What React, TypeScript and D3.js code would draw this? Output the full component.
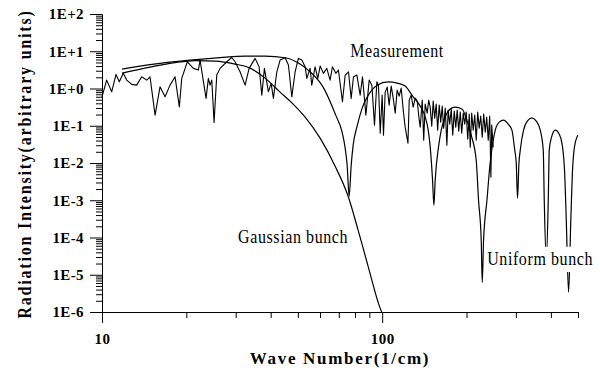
import { useEffect, useRef } from 'react';
import * as d3 from 'd3';

// Measured spectrum (wave number in 1/cm, intensity in arbitrary units)
const measuredK = [
  10.0, 10.39, 10.83, 11.22, 11.53, 11.91, 12.25, 12.77, 13.3, 13.86, 14.44, 14.84, 15.47, 16.11, 16.79, 17.49, 18.23, 18.88, 19.26, 20.17,
  21.19, 22.08, 22.39, 23.52, 23.97, 24.3, 24.65, 25.12, 25.68, 26.39, 27.89, 29.05, 29.85, 31.1, 32.42,
  33.5, 35.19, 36.37, 37.19, 37.99, 39.26, 40.15, 40.91, 42.07, 43.22, 45.04, 46.28, 47.59, 48.9, 50.24, 51.66, 53.09, 53.84, 55.3, 56.07,
  57.62, 58.92, 60.05, 61.7, 63.44, 65.19, 66.44, 68.32, 69.8, 72.15, 73.78, 75.81, 77.52, 79.0, 81.23, 83.47, 85.06, 87.48, 89.88, 91.89,
  93.88, 95.74, 97.0,
  98.4, 100.0, 101.1, 102.5, 104.2, 105.9, 107.7, 109.5, 111.3, 113.1, 115.0, 116.9, 118.9, 120.8, 123.6, 124.9, 126.9, 129.0, 131.2, 133.4,
  135.6, 136.7, 139.0, 140.7, 142.4, 144.8, 146.6, 148.4, 150.3, 152.1, 154.0, 155.9, 157.8, 159.8, 161.8, 163.8, 165.8, 167.9, 170.2, 172.0,
  174.2, 176.4, 178.6, 180.8, 183.1, 185.3, 187.6, 190.0, 192.3, 194.7, 197.1, 199.5, 202.0, 204.5, 206.2, 208.7, 211.3, 214.0, 216.6, 219.3,
  222.0, 224.8, 227.6, 230.4, 233.3, 236.1, 239.1, 242.0, 244.4, 246.0, 249.1
];
const measuredI = [
  0.598, 1.68, 0.815, 2.39, 1.51, 2.55, 1.68, 1.29, 1.23, 2.06, 1.68, 2.06, 0.193, 1.11, 0.598, 1.23, 2.06, 0.322, 1.87, 5.22,
  3.47, 3.13, 5.8, 0.542, 1.87, 1.23, 1.68, 0.123, 2.29, 3.47, 5.22, 6.8, 5.22, 2.81, 1.23,
  3.47, 6.44, 3.83, 0.665, 3.47, 0.815, 1.37, 0.542, 2.81, 5.8, 6.69, 4.26, 0.598, 2.81, 6.44, 5.8, 3.83, 1.87, 3.47, 1.23,
  3.83, 1.87, 4.0, 2.55, 3.47, 1.68, 3.83, 2.55, 3.13, 0.439, 2.29, 2.81, 0.542, 2.06, 2.29, 0.665, 2.06, 0.193, 1.68, 1.23,
  0.104, 1.51, 1.23,
  0.0632, 0.665, 0.0559, 0.8, 1.09, 0.358, 1.16, 0.552, 0.218, 0.906, 0.625, 1.03, 0.263, 0.0917, 0.034, 0.488, 0.665, 0.316, 0.552, 0.458,
  0.141, 0.0917, 0.488, 0.041, 0.381, 0.218, 0.488, 0.316, 0.0975, 0.458, 0.16, 0.381, 0.0762, 0.358, 0.125, 0.336, 0.0861, 0.297, 0.0301, 0.263,
  0.11, 0.279, 0.0559, 0.247, 0.0917, 0.263, 0.0716, 0.232, 0.0632, 0.218, 0.11, 0.232, 0.0436, 0.205, 0.0266, 0.218, 0.0762, 0.193, 0.041, 0.232,
  0.0861, 0.181, 0.0494, 0.205, 0.0673, 0.17, 0.041, 0.181, 0.00415, 0.104, 0.0266
];

// Calculated form factor, uniform bunch
const uniformK = [
  11.79, 14.84, 20.62, 26.39, 32.42, 38.2, 45.04, 50.92, 55.29, 61.55, 68.5, 71.97, 73.78, 74.99, 76.24, 77.52, 78.79, 81.39, 84.83, 88.41,
  95.97, 105.1, 113.1, 120.8, 129.0, 136.7, 142.4, 146.0, 148.4, 151.3, 153.0, 154.6, 158.9, 162.5, 167.9, 172.0, 182.3, 193.1, 199.5, 207.9,
  216.6, 220.8, 225.7, 227.6, 230.1, 236.6, 242.8, 248.1, 253.3, 261.8, 271.2, 281.8, 290.5, 297.3, 301.0, 304.2, 307.7, 311.1, 319.6, 329.5,
  342.4, 354.8, 366.7, 375.8, 378.9, 385.2, 391.6, 394.8, 401.3, 414.8, 428.6, 439.4, 448.5, 454.1, 462.8, 471.3, 477.1, 485.0, 499.2
];
const uniformI = [
  3.32, 4.39, 5.8, 6.77, 7.43, 7.43, 6.69, 4.53, 2.81, 1.09, 0.181, 0.0673, 0.025, 0.00873, 0.00128, 0.00873, 0.0301, 0.0975, 0.297, 0.587,
  1.23, 1.51, 1.4, 1.16, 0.598, 0.336, 0.173, 0.0762, 0.0271, 0.00345, 0.000734, 0.00345, 0.0271, 0.0762, 0.17, 0.247, 0.316, 0.279, 0.16, 0.0559,
  0.0119, 0.001, 0.000084, 0.00000625, 0.000084, 0.001, 0.00988, 0.034, 0.0762, 0.125, 0.141, 0.11, 0.0762, 0.0221, 0.00988, 0.00113, 0.00988, 0.0221, 0.0762, 0.133,
  0.163, 0.133, 0.0762, 0.0221, 0.001, 0.0000244, 0.001, 0.0221, 0.0464, 0.0762, 0.0595, 0.0301, 0.0047, 0.00029, 0.00000337, 0.00029, 0.0047, 0.025, 0.0559
];

// Calculated form factor, Gaussian bunch
const gaussK = [11.79, 14.84, 18.23, 21.49, 25.32, 29.85, 33.78, 38.2, 43.22, 47.71, 53.09, 60.05, 67.94, 75.6, 82.1, 89.1, 98.4, 99.6];
const gaussI = [2.59, 3.76, 4.97, 5.62, 5.45, 4.53, 3.53, 1.9, 0.8, 0.405, 0.17, 0.0464, 0.0082, 0.00128, 0.000156, 0.0000168, 0.00000125, 0.000001];

const xMajorTicks = [10, 100];
const xMinorTicks = [20, 30, 40, 50, 60, 70, 80, 90, 200, 300, 400, 500];
const yMajorTicks = [1e2, 1e1, 1e0, 1e-1, 1e-2, 1e-3, 1e-4, 1e-5, 1e-6];

const annotations = [
  { text: 'Measurement', k: 76.9, v: 6.98, masked: false },
  { text: 'Gaussian bunch', k: 30.6, v: 6.98e-5, masked: false },
  { text: 'Uniform bunch', k: 237, v: 1.79e-5, masked: true }
];

const FONT = "'Liberation Serif', 'Times New Roman', serif";

export default function App() {
  const svgRef = useRef<SVGSVGElement>(null);

  useEffect(() => {
    if (!svgRef.current) return;
    const svg = d3.select(svgRef.current);
    svg.selectAll('*').remove();

    const x = d3.scaleLog().domain([10, 500]).range([102, 578]);
    const y = d3.scaleLog().domain([1e-6, 1e2]).range([312, 14]);

    const yMinorTicks: number[] = [];
    yMajorTicks.slice(1).forEach(d => {
      for (let m = 2; m <= 9; m++) yMinorTicks.push(d * m);
    });

    const expLabel = (d: any) => {
      const e = Math.round(Math.log10(d));
      return `1E${e >= 0 ? '+' : '-'}${Math.abs(e)}`;
    };

    const styleAxis = (g: any) => {
      g.attr('font-family', FONT).attr('font-size', 15).attr('font-weight', 'bold');
      g.selectAll('text').attr('fill', '#000').attr('letter-spacing', 0.4);
      g.selectAll('line, path').attr('stroke', '#000');
    };

    // axes
    svg.append('g')
      .attr('transform', 'translate(0,312)')
      .call(d3.axisBottom(x).tickValues(xMinorTicks).tickSize(6).tickSizeOuter(0).tickFormat(() => ''))
      .call(styleAxis);
    svg.append('g')
      .attr('transform', 'translate(0,312)')
      .call(d3.axisBottom(x).tickValues(xMajorTicks).tickSize(11).tickSizeOuter(0).tickPadding(10).tickFormat(d3.format('d') as any))
      .call(styleAxis);
    svg.append('g')
      .attr('transform', 'translate(102,0)')
      .call(d3.axisLeft(y).tickValues(yMinorTicks).tickSize(6).tickSizeOuter(0).tickFormat(() => ''))
      .call(styleAxis);
    svg.append('g')
      .attr('transform', 'translate(102,0)')
      .call(d3.axisLeft(y).tickValues(yMajorTicks).tickSize(12).tickSizeOuter(0).tickPadding(6).tickFormat(expLabel))
      .call(styleAxis);

    // axis titles
    svg.append('text')
      .attr('x', 340).attr('y', 364)
      .attr('text-anchor', 'middle')
      .attr('font-family', FONT).attr('font-size', 17).attr('font-weight', 'bold')
      .attr('letter-spacing', 1.7)
      .text('Wave Number(1/cm)');
    svg.append('text')
      .attr('transform', 'translate(31,164) rotate(-90) scale(1,1.15)')
      .attr('text-anchor', 'middle')
      .attr('font-family', FONT).attr('font-size', 16).attr('font-weight', 'bold')
      .attr('letter-spacing', 1.8)
      .text('Radiation Intensity(arbitrary units)');

    // curves
    const smooth = d3.line<[number, number]>()
      .x(d => x(d[0]))
      .y(d => y(d[1]))
      .curve(d3.curveMonotoneX);
    const straight = d3.line<[number, number]>()
      .x(d => x(d[0]))
      .y(d => y(d[1]));

    const curves = svg.append('g').attr('fill', 'none').attr('stroke', '#000');
    curves.append('path')
      .attr('d', smooth(gaussK.map((k, i) => [k, gaussI[i]])))
      .attr('stroke-width', 1.2);
    curves.append('path')
      .attr('d', smooth(uniformK.map((k, i) => [k, uniformI[i]])))
      .attr('stroke-width', 1.2);
    curves.append('path')
      .attr('d', straight(measuredK.map((k, i) => [k, measuredI[i]])))
      .attr('stroke-width', 1.1)
      .attr('stroke-linejoin', 'round');

    // annotations (tall, narrow lettering as in the source figure)
    annotations.forEach(a => {
      const g = svg.append('g')
        .attr('transform', `translate(${x(a.k)},${y(a.v)}) scale(1,1.2)`);
      const t = g.append('text')
        .attr('x', 0).attr('y', 0)
        .attr('font-family', FONT).attr('font-size', 16)
        .attr('letter-spacing', 0.6)
        .text(a.text);
      if (a.masked) {
        const b = (t.node() as SVGTextElement).getBBox();
        g.insert('rect', 'text')
          .attr('x', b.x - 1).attr('y', b.y - 1)
          .attr('width', b.width + 2).attr('height', b.height + 3)
          .attr('fill', '#fff');
      }
    });
  }, []);

  return (
    <svg
      ref={svgRef}
      width={600}
      height={373}
      style={{ position: 'absolute', left: 0, top: 0, background: '#fff' }}
    />
  );
}
